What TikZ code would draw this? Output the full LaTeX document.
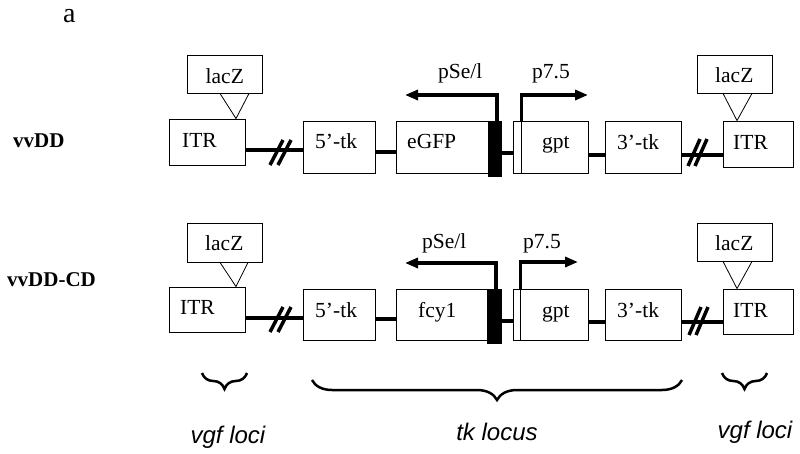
\documentclass[tikz,border=0pt]{standalone}
\usepackage{fontspec}
\setmainfont{Liberation Serif}
\newfontfamily\locifont{Liberation Sans}
\usetikzlibrary{arrows.meta,decorations.pathreplacing}
\begin{document}
\begin{tikzpicture}[x=1pt,y=-1pt,
  box/.style={draw, line width=0.9pt, inner sep=0pt},
  barbox/.style={draw, fill=black, inner sep=0pt},
  lbl/.style={anchor=base west, inner sep=0pt, font=\fontsize{21.5}{21.5}\selectfont},
  side/.style={anchor=base west, inner sep=0pt, font=\fontsize{21}{21}\selectfont\bfseries},
  link/.style={line width=4.2pt},
  slash/.style={line width=3.5pt},
  promo/.style={line width=3.5pt, -{Triangle[length=13pt,width=10pt]}},
  tri/.style={line width=0.8pt},
  locus/.style={anchor=base, inner sep=0pt, font=\locifont\itshape\fontsize{24}{24}\selectfont},
  brc/.style={decorate, decoration={brace, mirror, amplitude=#1}, line width=2.5pt}]
\useasboundingbox[fill=white] (0,0) rectangle (800,453);

\node[anchor=base west, inner sep=0pt, text height=14pt, text depth=0pt, font=\fontsize{28}{28}\selectfont] (panel) at (63,22) {a};
\node[side] (name1) at (13,147) {vvDD};
\node[side] (name2) at (7,286) {vvDD-CD};

% ---------- row 1 ----------
\node[box, minimum width=75pt, minimum height=38pt] (lacL1) at (224.5,74) {};
\node[box, minimum width=76pt, minimum height=46pt] (itrL1) at (207,142) {};
\node[box, minimum width=72pt, minimum height=52pt] (tkA1) at (339,147) {};
\node[box, minimum width=92pt, minimum height=52pt] (gene1) at (442,147) {};
\node[barbox, minimum width=13pt, minimum height=55pt] (bar1) at (494.5,148.5) {};
\node[box, minimum width=75pt, minimum height=52pt] (gpt1) at (550.5,147) {};
\node[box, minimum width=76pt, minimum height=52pt] (tkB1) at (643,147) {};
\node[box, minimum width=70pt, minimum height=46pt] (itrR1) at (758,144) {};
\node[box, minimum width=75pt, minimum height=38pt] (lacR1) at (734.5,74) {};
\draw[line width=0.9pt] ([xshift=9pt]gpt1.north west) -- ([xshift=9pt]gpt1.south west);

\draw[link] ([yshift=-8pt]itrL1.east) -- ([yshift=-8pt]itrL1.east -| tkA1.west);
\draw[link] ([yshift=-5pt]tkA1.east) -- ([yshift=-5pt]tkA1.east -| gene1.west);
\draw[link] ([yshift=-4.5pt]bar1.east) -- ([yshift=-4.5pt]bar1.east -| gpt1.west);
\draw[link] ([yshift=-8pt]gpt1.east) -- ([yshift=-8pt]gpt1.east -| tkB1.west);
\draw[link] ([yshift=-8pt]tkB1.east) -- ([yshift=-8pt]tkB1.east -| itrR1.west);

\coordinate (brkA1) at (281,152.5);
\draw[slash] (brkA1) ++(-11,12.5) -- ++(13,-25);
\draw[slash] (brkA1) ++(-3,12.5) -- ++(13,-25);
\coordinate (brkB1) at (698,152.5);
\draw[slash] (brkB1) ++(-10,13.5) -- ++(12,-27);
\draw[slash] (brkB1) ++(-3,13.5) -- ++(12,-27);

\coordinate (pseTip1) at (405,95);
\draw[promo] ([xshift=2.5pt]bar1.north) |- (pseTip1);
\coordinate (pTip1) at (588,95);
\draw[promo] ([xshift=9pt]gpt1.north west) |- (pTip1);

\draw[tri] ([xshift=-4.5pt]lacL1.south) -- ([xshift=29pt]itrL1.north) -- ([xshift=24.5pt]lacL1.south);
\draw[tri] ([xshift=-11.5pt]lacR1.south) -- ([xshift=-21pt]itrR1.north) -- ([xshift=17.5pt]lacR1.south);

\node[lbl] (tlacL1) at (205.5,83) {lacZ};
\node[lbl] (titrL1) at (182,147) {ITR};
\node[lbl] (ttkA1) at (315,148) {5’-tk};
\node[lbl] (tgene1) at (407,148) {eGFP};
\node[lbl] (tgpt1) at (542,148) {gpt};
\node[lbl] (ttkB1) at (617,149) {3’-tk};
\node[lbl] (titrR1) at (733,149) {ITR};
\node[lbl] (tlacR1) at (715,82) {lacZ};
\node[lbl] (tpse1) at (438,78) {pSe/l};
\node[lbl] (tp751) at (532,78) {p7.5};

% ---------- row 2 ----------
\node[box, minimum width=75pt, minimum height=39pt] (lacL2) at (224.5,242.5) {};
\node[box, minimum width=76pt, minimum height=45pt] (itrL2) at (207,309.5) {};
\node[box, minimum width=72pt, minimum height=51pt] (tkA2) at (339,314.5) {};
\node[box, minimum width=92pt, minimum height=51pt] (gene2) at (442,314.5) {};
\node[barbox, minimum width=14pt, minimum height=54pt] (bar2) at (494,316) {};
\node[box, minimum width=75pt, minimum height=51pt] (gpt2) at (550.5,314.5) {};
\node[box, minimum width=76pt, minimum height=51pt] (tkB2) at (643,314.5) {};
\node[box, minimum width=70pt, minimum height=45pt] (itrR2) at (758,311.5) {};
\node[box, minimum width=75pt, minimum height=38pt] (lacR2) at (734.5,242) {};
\draw[line width=0.9pt] ([xshift=8pt]gpt2.north west) -- ([xshift=8pt]gpt2.south west);

\draw[link] ([yshift=-8.5pt]itrL2.east) -- ([yshift=-8.5pt]itrL2.east -| tkA2.west);
\draw[link] ([yshift=-4.5pt]tkA2.east) -- ([yshift=-4.5pt]tkA2.east -| gene2.west);
\draw[link] ([yshift=-5pt]bar2.east) -- ([yshift=-5pt]bar2.east -| gpt2.west);
\draw[link] ([yshift=-7.5pt]gpt2.east) -- ([yshift=-7.5pt]gpt2.east -| tkB2.west);
\draw[link] ([yshift=-7.5pt]tkB2.east) -- ([yshift=-7.5pt]tkB2.east -| itrR2.west);

\coordinate (brkA2) at (281,319.5);
\draw[slash] (brkA2) ++(-11,12.5) -- ++(13,-25);
\draw[slash] (brkA2) ++(-3,12.5) -- ++(13,-25);
\coordinate (brkB2) at (700,321);
\draw[slash] (brkB2) ++(-11,14) -- ++(12,-28);
\draw[slash] (brkB2) ++(-4,14) -- ++(12,-28);

\coordinate (pseTip2) at (405,263);
\draw[promo] ([xshift=2pt]bar2.north) |- (pseTip2);
\coordinate (pTip2) at (578,262);
\draw[promo] ([xshift=8pt]gpt2.north west) |- (pTip2);

\draw[tri] ([xshift=-4.5pt]lacL2.south) -- ([xshift=29pt]itrL2.north) -- ([xshift=23.5pt]lacL2.south);
\draw[tri] ([xshift=-11.5pt]lacR2.south) -- ([xshift=-21pt]itrR2.north) -- ([xshift=17.5pt]lacR2.south);

\node[lbl] (tlacL2) at (205,250) {lacZ};
\node[lbl] (titrL2) at (180,314) {ITR};
\node[lbl] (ttkA2) at (315,317) {5’-tk};
\node[lbl] (tgene2) at (418,317) {fcy1};
\node[lbl] (tgpt2) at (542,317) {gpt};
\node[lbl] (ttkB2) at (617,317) {3’-tk};
\node[lbl] (titrR2) at (733,317) {ITR};
\node[lbl] (tlacR2) at (715,250) {lacZ};
\node[lbl] (tpse2) at (422,248) {pSe/l};
\node[lbl] (tp752) at (523,248) {p7.5};

% ---------- braces ----------
\coordinate (bLa) at (202,373); \coordinate (bLb) at (247,373);
\coordinate (bMa) at (312,380); \coordinate (bMb) at (682,380);
\coordinate (bRa) at (722,373); \coordinate (bRb) at (767,373);
\draw[brc=16pt] (bLa) -- (bLb);
\draw[brc=20pt] (bMa) -- (bMb);
\draw[brc=16pt] (bRa) -- (bRb);

\node[locus] (locL) at (228,443) {vgf loci};
\node[locus] (locM) at (497,440) {tk locus};
\node[locus] (locR) at (755,438) {vgf loci};
\end{tikzpicture}
\end{document}
